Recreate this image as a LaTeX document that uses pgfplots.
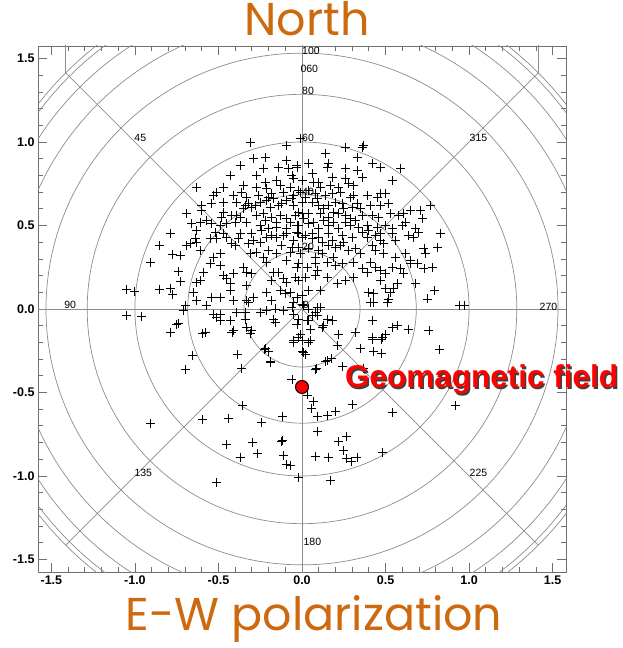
\documentclass[border=0pt]{standalone}
\usepackage{pgfplots}
\usepackage{pgfplotstable}
\pgfplotsset{compat=1.18}
\usepackage{fontspec}
\setmainfont{Liberation Sans}
\newfontfamily\titlefont{Poppins}
\definecolor{ttl}{RGB}{205,105,15}
\definecolor{gridc}{RGB}{140,140,140}

\pgfplotstableread{
x y
-0.655 -0.28
-0.389 -0.275
-0.699 -0.365
-0.361 -0.355
-0.224 -0.245
-0.200 -0.256
-0.186 -0.319
-0.050 -0.19
0.000 -0.256
-0.060 -0.425
-0.359 -0.579
-0.114 -0.645
-0.904 -0.685
-0.595 -0.661
-0.440 -0.655
-0.244 -0.681
-0.453 -0.814
-0.299 -0.798
-0.124 -0.795
-0.115 -0.790
-0.266 -0.864
-0.369 -0.890
-0.110 -0.878
-0.090 -0.930
-0.070 -0.938
-0.020 -1.010
-0.509 -1.038
0.000 -0.186
0.050 -0.186
0.020 -0.270
0.210 -0.216
0.349 -0.235
0.420 -0.180
0.475 -0.180
0.430 -0.256
0.475 -0.265
0.824 -0.245
0.150 -0.311
0.175 -0.295
0.084 -0.359
0.240 -0.345
0.369 -0.355
0.030 -0.515
0.070 -0.555
0.056 -0.595
0.090 -0.645
0.150 -0.635
0.200 -0.615
0.303 -0.571
0.539 -0.621
0.918 -0.575
0.090 -0.731
0.219 -0.795
0.269 -0.765
0.080 -0.884
0.159 -0.890
0.249 -0.850
0.269 -0.894
0.295 -0.914
0.329 -0.890
0.479 -0.858
0.169 -1.028
-0.789 -0.140
-0.750 -0.090
-0.593 -0.146
-0.419 -0.140
-0.310 -0.146
-0.220 -0.235
-0.190 -0.316
-0.050 -0.200
-0.010 -0.150
0.040 -0.200
0.010 -0.260
-0.030 -0.090
0.030 -0.070
0.060 -0.040
0.090 0.010
0.130 -0.100
0.080 -0.361
0.140 -0.316
-1.048 -0.040
-0.958 -0.045
0.51 0.04
-1.048 0.118
-1.004 0.104
-0.853 0.118
-0.789 0.124
-0.773 0.084
-0.908 0.277
-0.853 0.383
-0.789 0.453
-0.778 0.329
-0.725 0.323
-0.739 0.223
-0.725 0.163
-0.739 -0.086
-0.64 0.42
-0.63 0.40
-0.69 0.38
-0.67 0.39
-0.55 0.42
-0.51 0.42
-0.47 0.45
-0.42 0.39
-0.40 0.38
-0.38 0.42
-0.37 0.45
-0.32 0.39
-0.29 0.41
-0.25 0.40
-0.21 0.43
-0.18 0.44
-0.15 0.43
-0.11 0.44
-0.09 0.45
-0.05 0.41
0.00 0.43
-0.61 0.35
-0.53 0.31
-0.49 0.33
-0.31 0.33
-0.27 0.34
-0.23 0.31
-0.20 0.35
-0.15 0.33
-0.09 0.29
-0.07 0.34
-0.01 0.33
-0.55 0.27
-0.49 0.26
-0.59 0.22
-0.47 0.20
-0.41 0.21
-0.35 0.25
-0.33 0.22
-0.30 0.21
-0.21 0.28
-0.17 0.22
-0.14 0.22
-0.03 0.25
-0.63 0.16
-0.61 0.17
-0.45 0.18
-0.43 0.15
-0.33 0.14
-0.18 0.17
-0.11 0.18
-0.09 0.16
-0.04 0.19
-0.65 0.10
-0.63 0.05
-0.54 0.07
-0.49 0.07
-0.43 0.11
-0.33 0.05
-0.32 0.04
-0.29 0.07
-0.21 0.10
-0.18 0.05
-0.13 0.11
-0.10 0.09
-0.07 0.10
-0.03 0.07
-0.05 0.04
-0.70 0.02
-0.71 -0.01
-0.57 0.02
-0.53 -0.03
-0.49 -0.03
-0.41 0.05
-0.39 -0.02
-0.34 -0.02
-0.25 -0.02
-0.21 -0.01
-0.16 0.00
-0.11 -0.01
-0.06 0.01
0.00 0.03
-0.51 -0.05
-0.49 -0.07
-0.43 -0.07
-0.34 -0.06
-0.33 -0.11
-0.30 -0.13
-0.41 -0.13
-0.58 -0.14
-0.17 -0.06
-0.16 -0.08
-0.05 -0.03
-0.02 0.45
0.02 0.44
0.06 0.45
0.10 0.43
0.16 0.45
0.24 0.44
0.30 0.43
0.36 0.46
0.39 0.43
0.44 0.44
0.47 0.41
0.49 0.39
0.54 0.45
0.56 0.41
0.64 0.44
0.67 0.43
0.70 0.46
0.83 0.45
-0.02 0.37
0.04 0.36
0.10 0.35
0.12 0.33
0.16 0.38
0.20 0.37
0.23 0.38
0.28 0.35
0.32 0.36
0.35 0.33
0.42 0.38
0.44 0.35
0.49 0.33
0.56 0.31
0.62 0.33
0.65 0.29
0.73 0.36
0.74 0.33
0.81 0.37
-0.02 0.27
0.03 0.25
0.08 0.27
0.09 0.23
0.15 0.28
0.20 0.26
0.24 0.27
0.31 0.28
0.36 0.24
0.39 0.22
0.41 0.28
0.44 0.25
0.47 0.23
0.50 0.21
0.54 0.25
0.59 0.24
0.61 0.21
0.65 0.27
0.69 0.27
0.73 0.24
0.78 0.25
-0.02 0.17
0.02 0.19
0.08 0.20
0.15 0.19
0.21 0.15
0.26 0.17
0.31 0.19
0.40 0.10
0.43 0.09
0.47 0.17
0.50 0.12
0.53 0.10
0.55 0.12
0.52 0.06
0.57 0.15
0.68 0.15
0.75 0.06
0.79 0.11
0.00 0.08
0.04 0.11
0.11 0.11
0.41 0.04
0.43 0.04
0.01 0.02
0.04 0.00
0.08 -0.02
0.11 0.01
0.94 0.02
0.97 0.02
-0.02 -0.06
0.04 -0.07
0.09 -0.04
0.15 -0.06
0.18 -0.07
0.05 -0.12
0.12 -0.11
0.22 -0.15
0.32 -0.14
0.42 -0.07
0.54 -0.11
0.57 -0.10
0.64 -0.12
0.50 -0.15
0.76 -0.13
0.42 -0.17
0.48 -0.17
-0.02 -0.17
-0.31 1.00
-0.01 1.02
-0.09 0.98
-0.29 0.90
-0.22 0.91
-0.37 0.86
-0.23 0.84
-0.27 0.80
-0.14 0.85
-0.09 0.89
-0.08 0.84
-0.03 0.86
-0.43 0.80
-0.06 0.80
-0.05 0.78
-0.63 0.73
-0.47 0.73
-0.51 0.70
-0.53 0.68
-0.35 0.74
-0.36 0.70
-0.27 0.73
-0.26 0.68
-0.21 0.72
-0.20 0.67
-0.18 0.69
-0.13 0.74
-0.11 0.70
-0.07 0.73
-0.05 0.68
-0.01 0.70
-0.41 0.68
-0.39 0.64
-0.33 0.67
-0.34 0.62
-0.32 0.63
-0.30 0.61
-0.60 0.62
-0.54 0.63
-0.47 0.64
-0.60 0.59
-0.47 0.58
-0.69 0.57
-0.66 0.51
-0.61 0.52
-0.57 0.53
-0.54 0.51
-0.49 0.50
-0.45 0.51
-0.63 0.47
-0.39 0.56
-0.37 0.55
-0.40 0.52
-0.33 0.52
-0.25 0.64
-0.21 0.65
-0.19 0.61
-0.14 0.62
-0.09 0.65
-0.05 0.62
0.00 0.64
-0.27 0.56
-0.23 0.57
-0.18 0.55
-0.13 0.56
-0.09 0.54
-0.04 0.56
0.00 0.57
-0.25 0.50
-0.20 0.48
-0.15 0.49
-0.09 0.48
-0.03 0.50
0.26 0.97
0.36 0.97
0.37 0.98
0.14 0.93
0.33 0.91
0.42 0.87
0.47 0.85
0.59 0.84
0.04 0.87
0.15 0.85
0.16 0.87
-0.03 0.85
0.26 0.84
0.33 0.83
0.36 0.79
0.54 0.77
0.06 0.81
0.00 0.77
0.07 0.76
0.11 0.73
0.17 0.74
0.22 0.73
0.26 0.78
0.28 0.75
0.31 0.74
-0.02 0.71
0.04 0.71
0.08 0.69
0.14 0.68
0.18 0.69
0.29 0.67
0.31 0.68
0.39 0.68
0.45 0.67
0.47 0.69
0.50 0.69
0.52 0.63
0.47 0.62
0.41 0.62
0.00 0.64
0.06 0.64
0.10 0.62
0.16 0.62
0.20 0.64
0.24 0.63
0.30 0.61
0.35 0.60
-0.02 0.58
0.04 0.57
0.11 0.57
0.16 0.55
0.22 0.57
0.26 0.56
0.29 0.54
0.36 0.56
0.42 0.56
0.46 0.55
0.53 0.57
0.58 0.56
0.61 0.57
0.65 0.59
0.71 0.59
0.77 0.62
0.72 0.54
-0.02 0.50
0.04 0.51
0.10 0.48
0.16 0.50
0.22 0.48
0.29 0.50
0.34 0.49
0.39 0.50
0.45 0.49
0.50 0.50
0.54 0.48
0.60 0.50
0.68 0.48
0.62 0.52
-0.35 0.60
-0.28 0.62
-0.17 0.66
-0.12 0.63
-0.06 0.66
0.02 0.67
0.09 0.66
0.13 0.60
0.19 0.58
0.25 0.60
0.33 0.63
-0.22 0.53
-0.15 0.52
-0.07 0.52
0.01 0.54
0.07 0.52
0.13 0.53
0.19 0.52
0.26 0.52
0.32 0.53
-0.30 0.45
-0.24 0.47
-0.03 0.46
0.06 0.42
0.12 0.40
0.18 0.41
0.25 0.40
-0.12 0.38
-0.06 0.37
0.08 0.31
0.19 0.31
-0.45 0.43
-0.52 0.46
0.40 0.47
0.47 0.45
0.10 0.76
0.18 0.79
-0.15 0.77
-0.22 0.76
0.23 0.70
-0.42 0.56
-0.48 0.55
}\pts

\begin{document}
\begin{tikzpicture}
\begin{axis}[
  at={(0pt,0pt)}, anchor=south west,
  scale only axis, width=528pt, height=526pt,
  xmin=-1.58, xmax=1.58, ymin=-1.575, ymax=1.575,
  axis line style={gridc!80!black, line width=0.9pt},
  xtick={-1.5,-1,-0.5,0,0.5,1,1.5},
  xticklabels={-1.5,-1.0,-0.5,0.0,0.5,1.0,1.5},
  ytick={-1.5,-1,-0.5,0,0.5,1,1.5},
  yticklabels={-1.5,-1.0,-0.5,0.0,0.5,1.0,1.5},
  minor tick num=4,
  major tick length=9pt, minor tick length=5pt,
  tick style={gridc!80!black, line width=0.8pt},
  ticklabel style={font=\fontsize{12.5}{14}\selectfont\bfseries},
  clip=true,
]
\begin{scope}[gridc, line width=0.7pt]
\draw (axis cs:0,0) circle[radius=0.3473];
\draw (axis cs:0,0) circle[radius=0.6840];
\draw (axis cs:0,0) circle[radius=1.0];
\draw (axis cs:0,0) circle[radius=1.2856];
\draw (axis cs:0,0) circle[radius=1.5321];
\draw (axis cs:0,0) circle[radius=1.7321];
\draw (axis cs:0,0) circle[radius=1.8794];
\draw (axis cs:0,0) circle[radius=1.9696];
\draw (axis cs:0,0) circle[radius=2.0];
\draw (axis cs:-2,0) -- (axis cs:2,0);
\draw (axis cs:0,-2) -- (axis cs:0,2);
\draw (axis cs:-1.4142,-1.4142) -- (axis cs:1.4142,1.4142);
\draw (axis cs:-1.4142,1.4142) -- (axis cs:1.4142,-1.4142);
\draw (axis cs:-1.4142,1.4142) -- (axis cs:-1.4142,1.6);
\draw (axis cs:1.4142,1.4142) -- (axis cs:1.4142,1.6);
\end{scope}
\begin{scope}[every node/.style={font=\fontsize{10.5}{12}\selectfont, inner sep=0pt}]
\node at (axis cs:-0.968,1.024) {45};
\node at (axis cs:1.056,1.024) {315};
\node at (axis cs:-1.387,0.024) {90};
\node at (axis cs:1.475,0.012) {270};
\node at (axis cs:-0.95,-0.982) {135};
\node at (axis cs:1.056,-0.982) {225};
\node at (axis cs:0.062,-1.395) {180};
\node[anchor=west] at (axis cs:0.0,1.545) {100};
\node[anchor=west] at (axis cs:-0.01,1.437) {060};
\node[anchor=west] at (axis cs:0.0,1.307) {80};
\node[anchor=west] at (axis cs:0.0,1.022) {60};
\node[anchor=west] at (axis cs:0.0,0.702) {40};
\node[anchor=west] at (axis cs:0.0,0.373) {20};
\node[anchor=west] at (axis cs:0.005,0.024) {0};
\end{scope}
\addplot[only marks, mark=+, mark size=4.5pt, black, mark options={line width=0.95pt}] table {\pts};
\addplot[only marks, mark=*, mark size=6.5pt, mark options={fill=red, draw=black, line width=1pt}] coordinates {(0,-0.467)};
\end{axis}
\node[font=\titlefont\fontsize{46}{46}\selectfont, text=ttl, anchor=base, inner sep=0pt] at (269pt,536pt) {North};
\node[font=\titlefont\fontsize{46}{46}\selectfont, text=ttl, anchor=base, inner sep=0pt] at (276pt,-58pt) {E-W polarization};
\node[font=\fontsize{31.5}{32}\selectfont\bfseries, text=black!75, anchor=base west, inner sep=0pt] at (308.5pt,182.5pt) {Geomagnetic field};
\node[font=\fontsize{31.5}{32}\selectfont\bfseries, text=red, anchor=base west, inner sep=0pt] at (307pt,184pt) {Geomagnetic field};
\pgfresetboundingbox
\path[use as bounding box] (-38pt,-76pt) rectangle (585pt,572pt);
\end{tikzpicture}
\end{document}
